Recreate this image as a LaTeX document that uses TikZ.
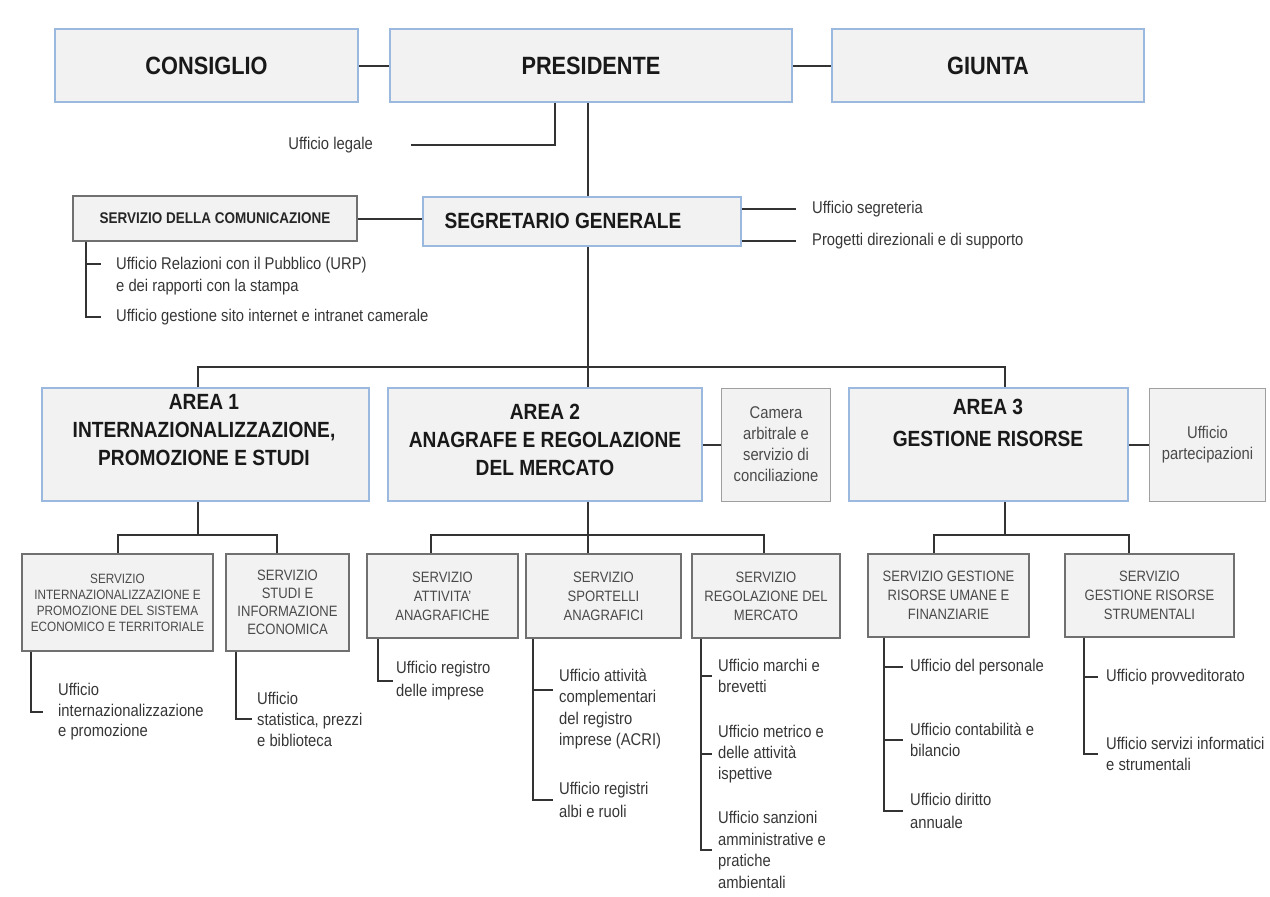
\documentclass[tikz,border=0pt]{standalone}
\usepackage{fontspec}
\setmainfont[FakeStretch=0.87]{Liberation Sans}
\usepackage{tikz}
\usetikzlibrary{positioning}

\definecolor{boxfill}{HTML}{F2F2F2}
\definecolor{blueline}{HTML}{9BB8DE}
\definecolor{grayline}{HTML}{707070}
\definecolor{linkgray}{HTML}{333333}
\definecolor{svctext}{HTML}{4A4A4A}
\definecolor{leaftext}{HTML}{363636}

\begin{document}
\begin{tikzpicture}[x=1pt, y=-1pt,
	TopBox/.style = {shape=rectangle, draw=blueline, line width=2pt, fill=boxfill, inner sep=0pt, minimum height=73pt, text=black!90, font=\fontsize{25}{30}\selectfont\bfseries},
	AreaBox/.style = {shape=rectangle, draw=blueline, line width=2pt, fill=boxfill, inner sep=0pt, minimum height=113pt},
	AreaText/.style = {align=center, inner sep=0pt, text=black!90, font=\fontsize{22}{28}\selectfont\bfseries},
	ComBox/.style = {shape=rectangle, draw=grayline, line width=2pt, fill=boxfill, inner sep=0pt, text=black!85, font=\fontsize{15.5}{18}\selectfont\bfseries},
	SvcBox/.style = {shape=rectangle, draw=grayline, line width=2.2pt, fill=boxfill, inner sep=0pt, align=center, text=svctext, font=\fontsize{15}{19}\selectfont},
	SideBox/.style = {shape=rectangle, draw=gray!75, line width=1pt, fill=boxfill, inner sep=0pt, minimum height=113pt, align=center, text=svctext, font=\fontsize{17}{21}\selectfont},
	LeafText/.style = {anchor=west, align=left, inner sep=0pt, text=leaftext, font=\fontsize{17}{21}\selectfont},
	Link/.style = {draw=linkgray, line width=2pt}]
	\useasboundingbox (0,0) rectangle (1270,897);

	% vertice
	\node[TopBox, minimum width=303pt] (cons) at (206.5,65.5) {CONSIGLIO};
	\node[TopBox, minimum width=402pt, right=30pt of cons] (pres) {PRESIDENTE};
	\node[TopBox, minimum width=312pt, right=38pt of pres] (giun) {GIUNTA};
	\node[LeafText, anchor=east] (uleg) at (373,145) {Ufficio legale};

	\node[AreaBox, minimum width=318pt, minimum height=49pt] (seg) at (582,221.5) {};
	\node[AreaText] (segt) at (563,221) {SEGRETARIO GENERALE};
	\node[ComBox, minimum width=284pt, minimum height=45pt] (com) at (215,218.5) {SERVIZIO DELLA COMUNICAZIONE};
	\node[LeafText] (useg) at (812,209) {Ufficio segreteria};
	\node[LeafText] (uprog) at (812,241) {Progetti direzionali e di supporto};
	\node[LeafText, font=\fontsize{17}{22}\selectfont] (urp) at (116,276) {Ufficio Relazioni con il Pubblico (URP)\\e dei rapporti con la stampa};
	\node[LeafText] (usito) at (116,317) {Ufficio gestione sito internet e intranet camerale};

	% aree
	\node[AreaBox, minimum width=327pt] (a1) at (205.5,444.5) {};
	\node[AreaText] (a1t) at (204,430) {AREA 1\\INTERNAZIONALIZZAZIONE,\\PROMOZIONE E STUDI};
	\node[AreaBox, minimum width=314pt] (a2) at (545,444.5) {};
	\node[AreaText] (a2t) at (545,440) {AREA 2\\ANAGRAFE E REGOLAZIONE\\DEL MERCATO};
	\node[AreaBox, minimum width=279pt] (a3) at (988.5,444.5) {};
	\node[AreaText, font=\fontsize{22}{32}\selectfont\bfseries] (a3t) at (988,423) {AREA 3\\GESTIONE RISORSE};
	\node[SideBox, minimum width=109pt, right=18pt of a2] (cam) {Camera\\arbitrale e\\servizio di\\conciliazione};
	\node[SideBox, minimum width=116pt, right=20pt of a3] (par) {Ufficio\\partecipazioni};

	% servizi
	\node[SvcBox, minimum width=191pt, minimum height=97pt, font=\fontsize{13.5}{16}\selectfont] (svc11) at (117.5,602.5) {SERVIZIO\\INTERNAZIONALIZZAZIONE E\\PROMOZIONE DEL SISTEMA\\ECONOMICO E TERRITORIALE};
	\node[SvcBox, minimum width=123pt, minimum height=97pt, font=\fontsize{15}{18}\selectfont] (svc12) at (287.5,602.5) {SERVIZIO\\STUDI E\\INFORMAZIONE\\ECONOMICA};
	\node[SvcBox, minimum width=151pt, minimum height=84pt] (svcA) at (442.5,596) {SERVIZIO\\ATTIVITA'\\ANAGRAFICHE};
	\node[SvcBox, minimum width=155pt, minimum height=84pt] (svcB) at (603.5,596) {SERVIZIO\\SPORTELLI\\ANAGRAFICI};
	\node[SvcBox, minimum width=148pt, minimum height=84pt] (svcC) at (766,596) {SERVIZIO\\REGOLAZIONE DEL\\MERCATO};
	\node[SvcBox, minimum width=161pt, minimum height=83pt] (svcD) at (948.5,595.5) {SERVIZIO GESTIONE\\RISORSE UMANE E\\FINANZIARIE};
	\node[SvcBox, minimum width=169pt, minimum height=83pt] (svcE) at (1149.5,595.5) {SERVIZIO\\GESTIONE RISORSE\\STRUMENTALI};

	% uffici
	\node[LeafText, font=\fontsize{17}{20.5}\selectfont] (lint) at (58,712) {Ufficio\\internazionalizzazione\\e promozione};
	\node[LeafText] (lstat) at (257,719) {Ufficio\\statistica, prezzi\\e biblioteca};
	\node[LeafText, font=\fontsize{17}{23}\selectfont] (lreg) at (396,681) {Ufficio registro\\delle imprese};
	\node[LeafText, font=\fontsize{17}{21.5}\selectfont] (lacri) at (559,709) {Ufficio attività\\complementari\\del registro\\imprese (ACRI)};
	\node[LeafText, font=\fontsize{17}{23}\selectfont] (lalbi) at (559,800) {Ufficio registri\\albi e ruoli};
	\node[LeafText] (lmarc) at (718,676) {Ufficio marchi e\\brevetti};
	\node[LeafText] (lmetr) at (718,754) {Ufficio metrico e\\delle attività\\ispettive};
	\node[LeafText, font=\fontsize{17}{21.5}\selectfont] (lsanz) at (718,850) {Ufficio sanzioni\\amministrative e\\pratiche\\ambientali};
	\node[LeafText] (lpers) at (910,667) {Ufficio del personale};
	\node[LeafText] (lcont) at (910,740) {Ufficio contabilità e\\bilancio};
	\node[LeafText, font=\fontsize{17}{23}\selectfont] (ldir) at (910,811) {Ufficio diritto\\annuale};
	\node[LeafText] (lprov) at (1106,677) {Ufficio provveditorato};
	\node[LeafText] (linf) at (1106,754) {Ufficio servizi informatici\\e strumentali};

	% punti di snodo
	\coordinate (a1top) at ([xshift=-7.5pt]a1.north);
	\coordinate (a2top) at ([xshift=43pt]a2.north);
	\coordinate (a3top) at ([xshift=16.5pt]a3.north);
	\coordinate (comsp) at ([xshift=14pt]com.south west);
	\coordinate (s11sp) at ([xshift=10pt]svc11.south west);
	\coordinate (s12sp) at ([xshift=11pt]svc12.south west);
	\coordinate (sAsp) at ([xshift=12pt]svcA.south west);
	\coordinate (sBsp) at ([xshift=8pt]svcB.south west);
	\coordinate (sCsp) at ([xshift=10pt]svcC.south west);
	\coordinate (sDsp) at ([xshift=17pt]svcD.south west);
	\coordinate (sEsp) at ([xshift=20pt]svcE.south west);
	\coordinate (urpT) at ([yshift=12pt]urp.west);
	\coordinate (acriT) at ([yshift=19pt]lacri.west);

	% collegamenti
	\path[Link]
		(cons) -- (pres)
		(pres) -- (giun)
		([xshift=-36pt]pres.south) |- ([xshift=38pt]uleg.east)
		(a2top |- pres.south) -- (a2top |- seg.north)
		(a2top |- seg.south) -- (a2top)
		(a1top) -- ++(0,-20) -| (a3top)
		(com.east) -- (com.east -| seg.west)
		(seg.east |- useg.west) -- ([xshift=-16pt]useg.west)
		(seg.east |- uprog.west) -- ([xshift=-16pt]uprog.west)
		(a2.east -| cam.west) -- (a2.east)
		(a3.east -| par.west) -- (a3.east)
	;
	\path[Link]
		([xshift=-7.5pt]a1.south) -- ++(0,33) coordinate (a1bus)
		(svc11.north) |- (a1bus) -| ([xshift=-10.5pt]svc12.north)
		(a2top |- a2.south) -- ++(0,33) coordinate (a2bus) -- (a2top |- svcB.north)
		([xshift=-11.5pt]svcA.north) |- (a2bus) -| ([xshift=-2pt]svcC.north)
		(a3top |- a3.south) -- ++(0,33) coordinate (a3bus)
		([xshift=-14.5pt]svcD.north) |- (a3bus) -| ([xshift=-20.5pt]svcE.north)
	;
	\path[Link]
		(comsp) |- ([xshift=-15pt]usito.west)
		(comsp |- urpT) -- ([xshift=-15pt]urpT)
		(s11sp) |- ([xshift=-15pt]lint.west)
		(s12sp) |- ([xshift=-5pt]lstat.west)
		(sAsp) |- ([xshift=-3pt]lreg.west)
		(sBsp) |- ([xshift=-6pt]lalbi.west)
		(sBsp |- acriT) -- ([xshift=-6pt]acriT)
		(sCsp) |- ([xshift=-6pt]lsanz.west)
		(sCsp |- lmarc.west) -- ([xshift=-6pt]lmarc.west)
		(sCsp |- lmetr.west) -- ([xshift=-6pt]lmetr.west)
		(sDsp) |- ([xshift=-7pt]ldir.west)
		(sDsp |- lpers.west) -- ([xshift=-7pt]lpers.west)
		(sDsp |- lcont.west) -- ([xshift=-7pt]lcont.west)
		(sEsp) |- ([xshift=-8pt]linf.west)
		(sEsp |- lprov.west) -- ([xshift=-8pt]lprov.west)
	;
\end{tikzpicture}
\end{document}
